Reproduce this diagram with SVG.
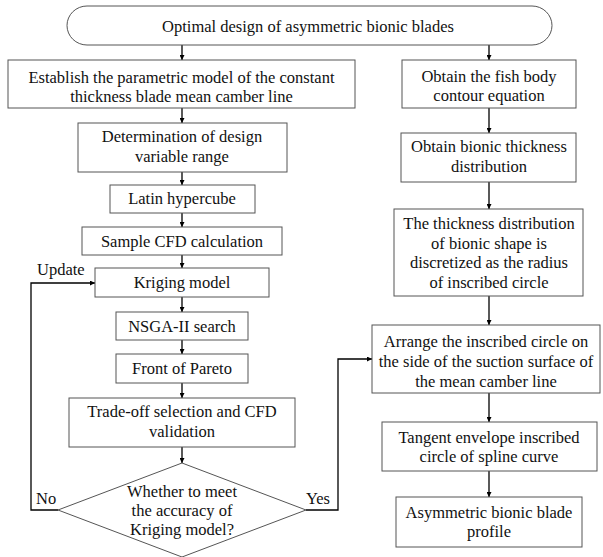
<svg xmlns="http://www.w3.org/2000/svg" width="603" height="557" viewBox="0 0 603 557">
<style>
.b{fill:#fff;stroke:#555;stroke-width:1}
.t{font-family:"Liberation Serif","Times New Roman",serif;font-size:16.5px;fill:#111;text-anchor:middle}
.l{font-family:"Liberation Serif","Times New Roman",serif;font-size:16.5px;fill:#111}
.c{fill:none;stroke:#000;stroke-width:1.3}
</style>
<defs>
<marker id="a" viewBox="0 0 10 10" refX="10" refY="5" markerWidth="5" markerHeight="5" orient="auto" markerUnits="userSpaceOnUse">
<path d="M0,0 L10,5 L0,10 z" fill="#000"/>
</marker>
</defs>
<rect width="603" height="557" fill="#fff"/>
<g id="connectors">
<path class="c" d="M182,45 V60" marker-end="url(#a)"/>
<path class="c" d="M489,45 V60" marker-end="url(#a)"/>
<path class="c" d="M182,108 V123" marker-end="url(#a)"/>
<path class="c" d="M182,172 V185" marker-end="url(#a)"/>
<path class="c" d="M182,213 V227" marker-end="url(#a)"/>
<path class="c" d="M182,255 V268" marker-end="url(#a)"/>
<path class="c" d="M182,297 V312" marker-end="url(#a)"/>
<path class="c" d="M182,340 V354" marker-end="url(#a)"/>
<path class="c" d="M182,383 V398" marker-end="url(#a)"/>
<path class="c" d="M182,447 V463" marker-end="url(#a)"/>
<path class="c" d="M58,510 H31 V283 H95" marker-end="url(#a)"/>
<path class="c" d="M306,510 H338 V359 H372" marker-end="url(#a)"/>
<path class="c" d="M489,108 V133" marker-end="url(#a)"/>
<path class="c" d="M489,182 V209" marker-end="url(#a)"/>
<path class="c" d="M489,296 V325" marker-end="url(#a)"/>
<path class="c" d="M489,393 V422" marker-end="url(#a)"/>
<path class="c" d="M489,471 V497" marker-end="url(#a)"/>
<text class="l" x="37" y="275">Update</text>
<text class="l" x="36" y="504">No</text>
<text class="l" x="306" y="504">Yes</text>
</g>
<g id="start">
<rect class="b" x="67" y="6" width="485" height="39" rx="20" ry="20"/>
<text class="t" x="308" y="32">Optimal design of asymmetric bionic blades</text>
</g>
<g id="param">
<rect class="b" x="8" y="60" width="347" height="48"/>
<text class="t" x="181.5" y="83">Establish the parametric model of the constant</text>
<text class="t" x="181.5" y="102">thickness blade mean camber line</text>
</g>
<g id="range">
<rect class="b" x="78" y="123" width="209" height="49"/>
<text class="t" x="182" y="142">Determination of design</text>
<text class="t" x="182" y="162">variable range</text>
</g>
<g id="latin">
<rect class="b" x="110" y="185" width="145" height="28"/>
<text class="t" x="182" y="204">Latin hypercube</text>
</g>
<g id="sample">
<rect class="b" x="82" y="227" width="200" height="28"/>
<text class="t" x="182" y="247">Sample CFD calculation</text>
</g>
<g id="kriging">
<rect class="b" x="95" y="268" width="174" height="29"/>
<text class="t" x="182" y="288">Kriging model</text>
</g>
<g id="nsga">
<rect class="b" x="116" y="312" width="132" height="28"/>
<text class="t" x="182" y="332">NSGA-II search</text>
</g>
<g id="pareto">
<rect class="b" x="116" y="354" width="132" height="29"/>
<text class="t" x="182" y="374">Front of Pareto</text>
</g>
<g id="tradeoff">
<rect class="b" x="69" y="398" width="226" height="49"/>
<text class="t" x="182" y="417">Trade-off selection and CFD</text>
<text class="t" x="182" y="437">validation</text>
</g>
<g id="decision">
<polygon class="b" points="182,463 306,510 182,557 58,510"/>
<text class="t" x="182" y="497">Whether to meet</text>
<text class="t" x="182" y="516">the accuracy of</text>
<text class="t" x="182" y="535">Kriging model?</text>
</g>
<g id="fish">
<rect class="b" x="402" y="60" width="174" height="48"/>
<text class="t" x="489" y="82">Obtain the fish body</text>
<text class="t" x="489" y="101">contour equation</text>
</g>
<g id="thickness">
<rect class="b" x="401" y="133" width="175" height="49"/>
<text class="t" x="489" y="152">Obtain bionic thickness</text>
<text class="t" x="489" y="172">distribution</text>
</g>
<g id="discretize">
<rect class="b" x="394" y="209" width="189" height="87"/>
<text class="t" x="489" y="229">The thickness distribution</text>
<text class="t" x="489" y="249">of bionic shape is</text>
<text class="t" x="489" y="268">discretized as the radius</text>
<text class="t" x="489" y="288">of inscribed circle</text>
</g>
<g id="arrange">
<rect class="b" x="372" y="325" width="228" height="68"/>
<text class="t" x="486" y="347">Arrange the inscribed circle on</text>
<text class="t" x="486" y="367">the side of the suction surface of</text>
<text class="t" x="486" y="387">the mean camber line</text>
</g>
<g id="tangent">
<rect class="b" x="382" y="422" width="215" height="49"/>
<text class="t" x="489" y="443">Tangent envelope inscribed</text>
<text class="t" x="489" y="462">circle of spline curve</text>
</g>
<g id="profile">
<rect class="b" x="396" y="497" width="186" height="50"/>
<text class="t" x="489" y="518">Asymmetric bionic blade</text>
<text class="t" x="489" y="537">profile</text>
</g>
</svg>
